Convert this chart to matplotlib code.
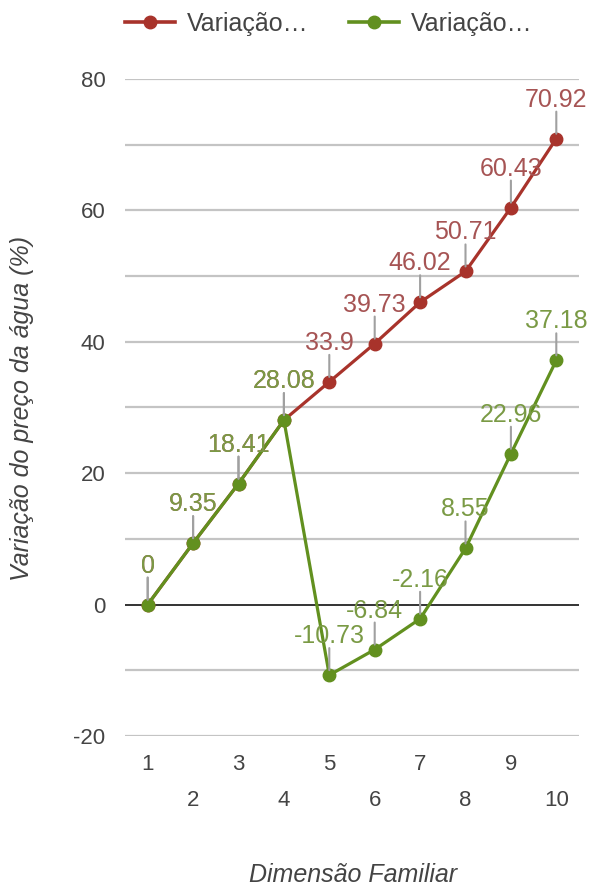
import matplotlib
matplotlib.use("Agg")
import matplotlib.pyplot as plt
from matplotlib.lines import Line2D

plt.rcParams['font.family'] = ['Liberation Sans', 'DejaVu Sans']

categories = ['1', '2', '3', '4', '5', '6', '7', '8', '9', '10']
red_values = [0, 9.35, 18.41, 28.08, 33.9, 39.73, 46.02, 50.71, 60.43, 70.92]
green_values = [0, 9.35, 18.41, 28.08, -10.73, -6.84, -2.16, 8.55, 22.96, 37.18]
red_labels = ['0', '9.35', '18.41', '28.08', '33.9', '39.73', '46.02', '50.71', '60.43', '70.92']
green_labels = ['0', '9.35', '18.41', '28.08', '-10.73', '-6.84', '-2.16', '8.55', '22.96', '37.18']
legend_names = ['Variação…', 'Variação…']
y_ticks = [-20, 0, 20, 40, 60, 80]

RED = '#a8332b'
RED_TXT = '#a65454'
GREEN = '#62901f'
GREEN_TXT = '#7a9a45'
GRID = '#c4c4c4'
TXT = '#444444'

fig = plt.figure(figsize=(5.92, 8.88), dpi=100)
ax = fig.add_axes([125/592, 1-736/888, (579-125)/592, (736-79)/888])

x = list(range(len(categories)))
ax.set_xlim(-0.5, len(categories) - 0.5)
ax.set_ylim(-20, 80)

# gridlines every 10
for g in range(-20, 81, 10):
    if g == 0:
        continue
    ax.axhline(g, color=GRID, lw=1.6, zorder=0)
ax.axhline(0, color='#333333', lw=1.4, zorder=1)

for s in ax.spines.values():
    s.set_visible(False)

ax.plot(x, red_values, color=RED, lw=2.3, marker='o', ms=9, zorder=3)
ax.plot(x, green_values, color=GREEN, lw=2.3, marker='o', ms=9, zorder=4)

px = 72 / 100.0

def label(xi, yi, text, color, z):
    ax.annotate('', xy=(xi, yi), xytext=(0, 27 * px), textcoords='offset points',
                arrowprops=dict(arrowstyle='-', color='#a0a0a0', lw=1.5,
                                shrinkA=0, shrinkB=5 * px), zorder=z)
    ax.annotate(text, xy=(xi, yi), xytext=(0, 39 * px), textcoords='offset points',
                ha='center', va='center', fontsize=18, color=color, zorder=z + 1)

for xi, yi, t in zip(x, red_values, red_labels):
    label(xi, yi, t, RED_TXT, 5)
for xi, yi, t in zip(x, green_values, green_labels):
    label(xi, yi, t, GREEN_TXT, 7)

ax.set_yticks(y_ticks)
ax.set_yticklabels([str(v) for v in y_ticks], fontsize=16, color=TXT)
ax.tick_params(axis='y', length=0, pad=14)

ax.set_xticks(x)
ax.set_xticklabels([])
ax.tick_params(axis='x', length=0)
for xi, c in zip(x, categories):
    off = 29 if (xi % 2 == 0) else 64
    ax.annotate(c, xy=(xi, -20), xytext=(0, -off * px), textcoords='offset points',
                ha='center', va='center', fontsize=16, color=TXT, annotation_clip=False)

fig.text(22/592, 1-408/888, 'Variação do preço da água (%)', rotation=90,
         ha='center', va='center', fontsize=18, color=TXT, style='italic')
fig.text(353/592, 1-875/888, 'Dimensão Familiar', ha='center', va='center',
         fontsize=18, color=TXT, style='italic')

handles = [Line2D([0], [0], color=RED, lw=2.6, marker='o', ms=9),
           Line2D([0], [0], color=GREEN, lw=2.6, marker='o', ms=9)]
leg = fig.legend(handles, legend_names, loc='center left',
                 bbox_to_anchor=(125/592, 1-24/888), ncol=2, frameon=False,
                 borderpad=0, borderaxespad=0,
                 fontsize=18, handlelength=2.0, columnspacing=1.6, handletextpad=0.48)
for t in leg.get_texts():
    t.set_color(TXT)

fig.savefig('out.png', dpi=100)
